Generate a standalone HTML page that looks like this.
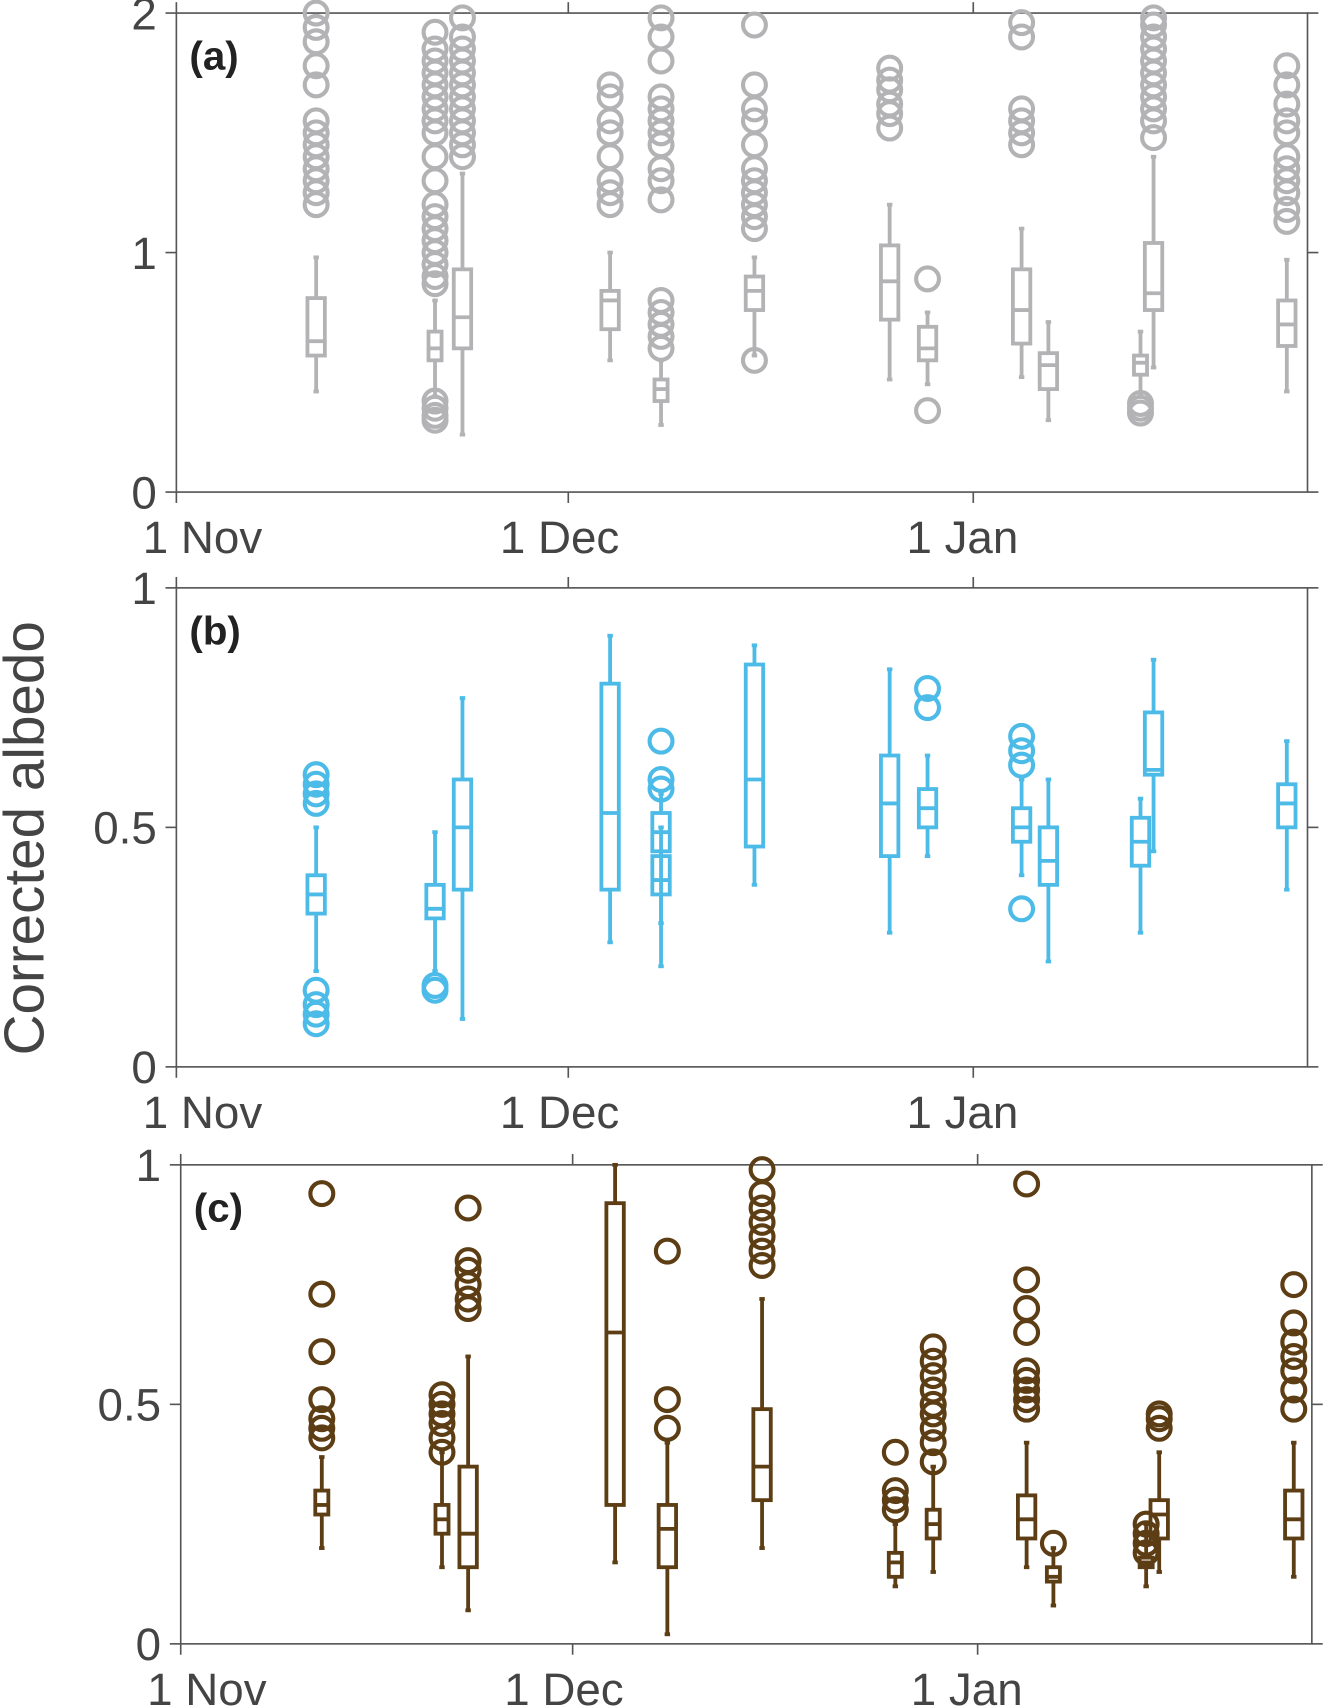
<!DOCTYPE html>
<html><head><meta charset="utf-8"><style>
html,body{margin:0;padding:0;background:#fff;}
svg{display:block;font-family:"Liberation Sans",sans-serif;}
</style></head><body>
<svg id="chart" width="1326" height="1707" viewBox="0 0 1218 1568" preserveAspectRatio="none" xmlns="http://www.w3.org/2000/svg">
<text x="0" y="0" transform="translate(40,770) rotate(-90)" text-anchor="middle" font-size="52" fill="#444">Corrected albedo</text>
</svg>
<script>
// tick labels
const xTickLabels = ["1 Nov", "1 Dec", "1 Jan"];
const xTickDays = [0, 30, 61];
// panel (a)
const aDays = [10.7, 19.8, 21.9, 33.2, 37.1, 44.25, 54.6, 57.5, 64.7, 66.75, 73.8, 74.8, 85.0];
const aLo = [0.42, 0.40, 0.24, 0.55, 0.28, 0.57, 0.47, 0.45, 0.48, 0.30, 0.40, 0.52, 0.42];
const aQ1 = [0.57, 0.55, 0.60, 0.68, 0.38, 0.76, 0.72, 0.55, 0.62, 0.43, 0.49, 0.76, 0.61];
const aMed = [0.63, 0.60, 0.73, 0.80, 0.43, 0.84, 0.88, 0.60, 0.76, 0.53, 0.54, 0.83, 0.70];
const aQ3 = [0.81, 0.67, 0.93, 0.84, 0.47, 0.90, 1.03, 0.69, 0.93, 0.58, 0.57, 1.04, 0.80];
const aHi = [0.98, 0.80, 1.33, 1.00, 0.55, 0.98, 1.20, 0.75, 1.10, 0.71, 0.67, 1.40, 0.97];
const aOut = [
 [1.2,1.25,1.3,1.35,1.4,1.45,1.5,1.55,1.7,1.78,1.88,1.94,2.0],
 [0.3,0.32,0.35,0.38,0.87,0.9,0.95,1.0,1.05,1.1,1.15,1.2,1.3,1.4,1.5,1.55,1.6,1.65,1.7,1.75,1.8,1.85,1.92],
 [1.4,1.45,1.5,1.55,1.6,1.65,1.7,1.75,1.8,1.85,1.9,1.98],
 [1.2,1.25,1.3,1.4,1.5,1.55,1.65,1.7],
 [0.6,0.65,0.7,0.75,0.8,1.22,1.3,1.35,1.45,1.5,1.55,1.6,1.65,1.8,1.9,1.98],
 [0.55,1.1,1.15,1.2,1.25,1.3,1.35,1.45,1.55,1.6,1.7,1.95],
 [1.52,1.58,1.62,1.68,1.72,1.77],
 [0.34,0.89],
 [1.45,1.5,1.55,1.6,1.9,1.96],
 [],
 [0.33,0.35,0.37],
 [1.48,1.55,1.6,1.65,1.7,1.75,1.8,1.85,1.9,1.95,1.98],
 [1.13,1.18,1.25,1.3,1.35,1.4,1.5,1.55,1.62,1.7,1.78]
];
// panel (b)
const bDays = [10.7, 19.8, 21.9, 33.2, 37.1, 37.1, 44.25, 54.6, 57.5, 64.7, 66.75, 73.8, 74.8, 85.0];
const bLo = [0.20, 0.20, 0.10, 0.26, 0.21, 0.30, 0.38, 0.28, 0.44, 0.40, 0.22, 0.28, 0.45, 0.37];
const bQ1 = [0.32, 0.31, 0.37, 0.37, 0.36, 0.45, 0.46, 0.44, 0.50, 0.47, 0.38, 0.42, 0.61, 0.50];
const bMed = [0.36, 0.33, 0.50, 0.53, 0.39, 0.49, 0.60, 0.55, 0.54, 0.50, 0.43, 0.47, 0.62, 0.55];
const bQ3 = [0.40, 0.38, 0.60, 0.80, 0.44, 0.53, 0.84, 0.65, 0.58, 0.54, 0.50, 0.52, 0.74, 0.59];
const bHi = [0.50, 0.49, 0.77, 0.90, 0.50, 0.57, 0.88, 0.83, 0.65, 0.60, 0.60, 0.56, 0.85, 0.68];
const bOut = [
 [0.09,0.11,0.13,0.16,0.55,0.57,0.59,0.61],
 [0.16,0.17],[],[],[],[0.58,0.6,0.68],[],[],[0.75,0.79],[0.33,0.63,0.66,0.69],[],[],[],[]
];
// panel (c)
const cDays = [10.8, 20.0, 22.0, 33.25, 37.25, 44.5, 54.7, 57.6, 64.75, 66.8, 73.9, 74.9, 85.2];
const cLo = [0.20, 0.16, 0.07, 0.17, 0.02, 0.20, 0.12, 0.15, 0.16, 0.08, 0.12, 0.15, 0.14];
const cQ1 = [0.27, 0.23, 0.16, 0.29, 0.16, 0.30, 0.14, 0.22, 0.22, 0.13, 0.16, 0.22, 0.22];
const cMed = [0.29, 0.26, 0.23, 0.65, 0.24, 0.37, 0.17, 0.25, 0.26, 0.14, 0.17, 0.27, 0.26];
const cQ3 = [0.32, 0.29, 0.37, 0.92, 0.29, 0.49, 0.19, 0.28, 0.31, 0.16, 0.18, 0.30, 0.32];
const cHi = [0.39, 0.40, 0.60, 1.00, 0.42, 0.72, 0.25, 0.37, 0.42, 0.20, 0.25, 0.40, 0.42];
const cOut = [
 [0.43,0.45,0.47,0.51,0.61,0.73,0.94],
 [0.40,0.43,0.46,0.48,0.50,0.52],
 [0.70,0.72,0.75,0.78,0.80,0.91],
 [],
 [0.45,0.51,0.82],
 [0.79,0.82,0.85,0.88,0.91,0.94,0.99],
 [0.28,0.30,0.32,0.40],
 [0.38,0.42,0.45,0.48,0.50,0.53,0.56,0.59,0.62],
 [0.49,0.51,0.53,0.55,0.57,0.65,0.70,0.76,0.96],
 [0.21],
 [0.19,0.21,0.23,0.25],
 [0.45,0.47,0.48],
 [0.49,0.53,0.57,0.60,0.63,0.67,0.75]
];

const NS = "http://www.w3.org/2000/svg";
const svg = document.getElementById("chart");
const labelShift = [24, -8, -10];
function mk(tag, attrs, parent) {
  const e = document.createElementNS(NS, tag);
  for (const k in attrs) e.setAttribute(k, attrs[k]);
  (parent || svg).appendChild(e);
  return e;
}
function panel(cfg) {
  const g = mk("g", {});
  
  
  const x = d => cfg.x0 + d * cfg.pxDay;
  const y = v => cfg.yBot - (v / cfg.yMax) * (cfg.yBot - cfg.yTop);
  const frame = mk("rect", {x: cfg.x0, y: cfg.yTop, width: cfg.x1 - cfg.x0, height: cfg.yBot - cfg.yTop, fill: "none", stroke: "#555", "stroke-width": 1.5}, g);
  
  
  cfg.yTicks.forEach((t, i) => {
    mk("line", {x1: cfg.x0 - 10, x2: cfg.x0, y1: y(t), y2: y(t), stroke: "#555", "stroke-width": 1.5}, g);
    mk("line", {x1: cfg.x1, x2: cfg.x1 + 10, y1: y(t), y2: y(t), stroke: "#555", "stroke-width": 1.5}, g);
    const tx = mk("text", {x: cfg.x0 - 18, y: y(t) + 15, "text-anchor": "end", "font-size": 42, fill: "#444"}, g);
    tx.textContent = cfg.yLabels[i];
    
    
  });
  xTickDays.forEach((d, i) => {
    mk("line", {x1: x(d), x2: x(d), y1: cfg.yBot, y2: cfg.yBot + 10, stroke: "#555", "stroke-width": 1.5}, g);
    mk("line", {x1: x(d), x2: x(d), y1: cfg.yTop, y2: cfg.yTop - 10, stroke: "#555", "stroke-width": 1.5}, g);
    const tx = mk("text", {x: x(d) + labelShift[i], y: cfg.yBot + 56, "text-anchor": "middle", "font-size": 42, fill: "#444"}, g);
    tx.textContent = xTickLabels[i];
    
    
  });
  const lab = mk("text", {x: cfg.x0 + 12, y: cfg.yTop + 52, "font-size": 37, "font-weight": "bold", fill: "#222"}, g);
  lab.textContent = "(" + cfg.id + ")";
  
  
  const col = cfg.color;
  cfg.days.forEach((d, i) => {
    const bx = mk("g", {}, g);
    
    
    const cx = x(d);
    const hw = (cfg.q3[i] - cfg.q1[i]) * (cfg.yBot - cfg.yTop) / cfg.yMax > 30 ? 8 : 6;
    mk("line", {x1: cx, x2: cx, y1: y(cfg.lo[i]), y2: y(cfg.q1[i]), stroke: col, "stroke-width": 3.5}, bx);
    mk("line", {x1: cx, x2: cx, y1: y(cfg.q3[i]), y2: y(cfg.hi[i]), stroke: col, "stroke-width": 3.5}, bx);
    mk("line", {x1: cx - 2.5, x2: cx + 2.5, y1: y(cfg.lo[i]), y2: y(cfg.lo[i]), stroke: col, "stroke-width": 3.5}, bx);
    mk("line", {x1: cx - 2.5, x2: cx + 2.5, y1: y(cfg.hi[i]), y2: y(cfg.hi[i]), stroke: col, "stroke-width": 3.5}, bx);
    mk("rect", {x: cx - hw, y: y(cfg.q3[i]), width: 2 * hw, height: y(cfg.q1[i]) - y(cfg.q3[i]), fill: "none", stroke: col, "stroke-width": 3.5}, bx);
    mk("line", {x1: cx - hw, x2: cx + hw, y1: y(cfg.med[i]), y2: y(cfg.med[i]), stroke: col, "stroke-width": 3.5}, bx);
    cfg.out[i].forEach(v => {
      const c = mk("circle", {cx: cx, cy: y(v), r: 10.5, fill: "none", stroke: col, "stroke-width": 3.8}, bx);
      
      
    });
  });
}
panel({id: "a", x0: 162, x1: 1201, yTop: 12, yBot: 452, yMax: 2, pxDay: 12,
  yTicks: [0, 1, 2], yLabels: ["0", "1", "2"], color: "#b3b3b5",
  days: aDays, lo: aLo, q1: aQ1, med: aMed, q3: aQ3, hi: aHi, out: aOut});
panel({id: "b", x0: 162, x1: 1201, yTop: 540, yBot: 980, yMax: 1, pxDay: 12,
  yTicks: [0, 0.5, 1], yLabels: ["0", "0.5", "1"], color: "#4dbbe8",
  days: bDays, lo: bLo, q1: bQ1, med: bMed, q3: bQ3, hi: bHi, out: bOut});
panel({id: "c", x0: 166, x1: 1205, yTop: 1070, yBot: 1510, yMax: 1, pxDay: 12,
  yTicks: [0, 0.5, 1], yLabels: ["0", "0.5", "1"], color: "#5c3d14",
  days: cDays, lo: cLo, q1: cQ1, med: cMed, q3: cQ3, hi: cHi, out: cOut});
</script>
</body></html>
